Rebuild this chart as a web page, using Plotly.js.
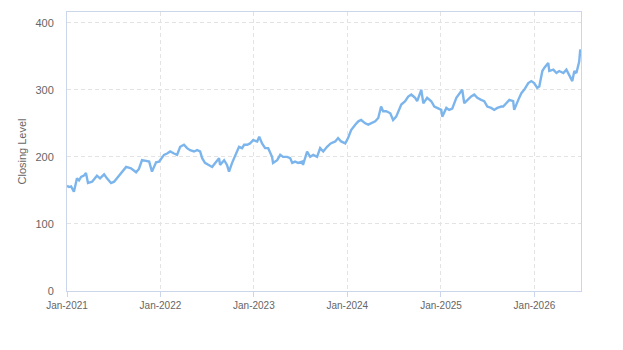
<!DOCTYPE html>
<html>
<head>
<meta charset="utf-8">
<script src="https://cdn.plot.ly/plotly-3.0.1.min.js"></script>
<style>html,body{margin:0;padding:0;background:#fff;}#chart{width:623px;height:350px;}</style>
</head>
<body>
<div id="chart"></div>
<script>
const dates = [
"2021-01-01","2021-01-09","2021-01-17","2021-01-28","2021-02-09","2021-02-17","2021-02-25","2021-03-08","2021-03-16","2021-03-24",
"2021-04-09","2021-04-28","2021-05-10","2021-05-26","2021-06-06","2021-06-22","2021-07-04","2021-07-15","2021-08-04","2021-08-20",
"2021-09-08","2021-09-28","2021-10-09","2021-10-21","2021-11-06","2021-11-18","2021-11-29","2021-12-15","2021-12-27",
"2022-01-15","2022-01-27","2022-02-08","2022-02-23","2022-03-07","2022-03-19","2022-04-03","2022-04-15","2022-04-27","2022-05-12",
"2022-05-24","2022-06-05","2022-06-13","2022-06-24","2022-07-10","2022-07-22","2022-08-03","2022-08-18","2022-08-22","2022-09-07",
"2022-09-18","2022-09-26","2022-10-08","2022-10-20","2022-10-28","2022-11-04","2022-11-16","2022-11-24","2022-12-06","2022-12-17","2022-12-29",
"2023-01-14","2023-01-22","2023-02-02","2023-02-14","2023-02-26","2023-03-13","2023-03-17","2023-04-02","2023-04-14","2023-04-25",
"2023-05-11","2023-05-23","2023-05-31","2023-06-11","2023-06-23","2023-07-09","2023-07-12","2023-07-28","2023-08-09","2023-08-21",
"2023-09-05","2023-09-17","2023-09-29","2023-10-14","2023-10-28","2023-11-15","2023-11-26","2023-12-08","2023-12-24",
"2024-01-04","2024-01-16","2024-02-01","2024-02-13","2024-02-24","2024-03-11","2024-03-23","2024-04-03","2024-04-19","2024-05-01",
"2024-05-12","2024-05-20","2024-06-01","2024-06-17","2024-06-28","2024-07-10","2024-07-26","2024-07-30","2024-08-14","2024-08-26",
"2024-09-07","2024-09-22","2024-09-30","2024-10-12","2024-10-16","2024-10-24","2024-11-08","2024-11-24","2024-12-06","2024-12-17",
"2025-01-02","2025-01-06","2025-01-22","2025-02-02","2025-02-14","2025-03-02","2025-03-13","2025-03-25","2025-04-02","2025-04-14",
"2025-04-29","2025-05-11","2025-05-23","2025-06-07","2025-06-19","2025-07-01","2025-07-16","2025-07-28","2025-08-09","2025-08-25",
"2025-09-01","2025-09-13","2025-09-25","2025-10-10","2025-10-14","2025-10-30","2025-11-11","2025-11-22","2025-12-08","2025-12-20","2025-12-31",
"2026-01-12","2026-01-20","2026-02-01","2026-02-09","2026-02-24","2026-02-28","2026-03-16","2026-03-28","2026-04-08","2026-04-24",
"2026-05-06","2026-05-17","2026-05-29","2026-06-06","2026-06-14","2026-06-25","2026-06-29","2026-07-02"
];
const closing = [
157,155,156,148,168,165,170,172,176,161,
163,172,168,174,168,161,163,168,178,185,
183,177,182,195,194,193,178,192,193,
203,205,208,205,203,215,218,213,210,208,
210,208,198,191,188,185,191,198,188,195,
188,178,191,203,210,215,213,218,218,220,225,
223,230,220,213,213,200,191,195,203,200,
200,198,191,193,191,193,188,208,200,203,
200,213,208,215,220,223,228,223,220,
228,240,248,253,255,250,248,250,253,258,
275,268,268,265,255,260,273,278,283,290,
293,288,283,298,300,280,288,283,275,273,
270,260,273,270,272,288,293,300,280,285,
290,293,288,285,283,275,273,270,273,275,
275,280,285,283,270,285,295,300,310,313,310,
303,305,328,333,340,328,330,325,328,325,
330,322,313,328,325,342,360,355
];
const yTicks = [0,100,200,300,400];
const xTicks = ["2021-01-01","2022-01-01","2023-01-01","2024-01-01","2025-01-01","2026-01-01"];
const xTickText = ["Jan-2021","Jan-2022","Jan-2023","Jan-2024","Jan-2025","Jan-2026"];

const trace = {
  x: dates, y: closing, type: "scatter", mode: "lines",
  line: {color: "#7cb5ec", width: 2.4}, hoverinfo: "x+y", showlegend: false
};
const layout = {
  width: 623, height: 350,
  margin: {l: 67, r: 42, t: 12, b: 59},
  paper_bgcolor: "#ffffff", plot_bgcolor: "#ffffff",
  font: {family: "Liberation Sans, Arial, sans-serif", color: "#666666"},
  xaxis: {
    type: "date", range: ["2021-01-01", "2026-07-02"],
    tickvals: xTicks, ticktext: xTickText,
    tickfont: {size: 10, color: "#666666"},
    showgrid: true, gridcolor: "#e3e3e3", griddash: "4px,3px", gridwidth: 1,
    showline: true, linecolor: "#ccd6eb", linewidth: 1, mirror: true,
    ticks: "outside", ticklen: 5, tickcolor: "#ccd6eb",
    zeroline: false
  },
  yaxis: {
    range: [0, 416], tickvals: yTicks,
    tickfont: {size: 11, color: "#666666"},
    ticklabelstandoff: 10,
    showgrid: true, gridcolor: "#e3e3e3", griddash: "4px,3px", gridwidth: 1,
    showline: true, linecolor: "#ccd6eb", linewidth: 1, mirror: true,
    ticks: "", zeroline: false,
    title: {text: "Closing Level", font: {size: 11, color: "#666666"}, standoff: 6}
  }
};
Plotly.newPlot("chart", [trace], layout, {displayModeBar: false, staticPlot: true});
</script>
</body>
</html>
